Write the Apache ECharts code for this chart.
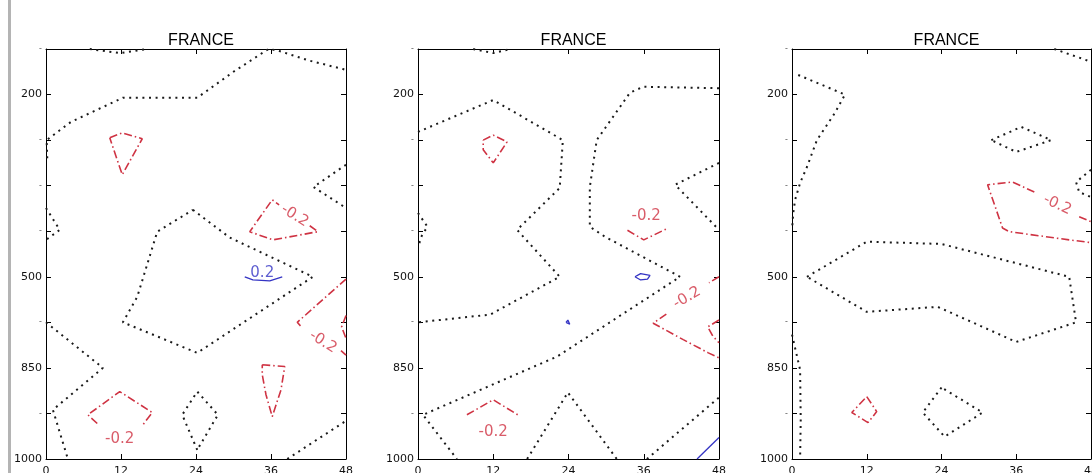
<!DOCTYPE html>
<html>
<head>
<meta charset="utf-8">
<script src="https://cdn.jsdelivr.net/npm/echarts@6/dist/echarts.min.js"></script>
<style>
  html, body { margin: 0; padding: 0; background: #fff; }
  #chart { width: 1092px; height: 473px; }
</style>
</head>
<body>
<div id="chart"></div>
<script>
// Pressure levels (hPa) on the vertical axis, plotted by level index, 1000 at the bottom
const levels = [150, 200, 250, 300, 400, 500, 700, 850, 925, 1000];
const labeledLevels = [200, 500, 850, 1000];
// Forecast hour ticks on the horizontal axis
const hours = [0, 12, 24, 36, 48];
const panelTitles = ['FRANCE', 'FRANCE', 'FRANCE'];

// Contour polylines as [hour, level index]; zero line, -0.2 and +0.2 isolines

// Panel 1
const p1Zero = [
  [[7, 0], [11.8, 0.09], [16.2, 0]],
  [[0.2, 2.4], [0.1, 2.0], [4, 1.6], [12.3, 1.07], [24.2, 1.07], [30, 0.5], [35.6, 0], [37, 0.03], [42, 0.25], [47.5, 0.44], [48, 0.46]],
  [[0, 3.49], [2.2, 3.97], [0, 4.19]],
  [[23.5, 3.53], [29.4, 4.14], [42.7, 5.0], [24.2, 6.67], [12.3, 6.0], [14.6, 5.44], [17.8, 4.01], [23.5, 3.53]],
  [[48, 2.54], [42.8, 3.03], [48, 3.49]],
  [[0, 6.0], [9.1, 7.0], [1.1, 7.92], [3.5, 9.0]],
  [[24.2, 8.8], [21.8, 8.03], [24.2, 7.52], [27.5, 8.03], [24.2, 8.8]],
  [[38.6, 9.0], [47.8, 8.18]]
];
const p1Neg = [
  [[10.2, 1.95], [12.2, 1.84], [15.4, 1.97], [12.2, 2.76], [10.2, 1.95]],
  [[42.2, 3.88], [43.5, 4.01], [36.3, 4.19], [32.6, 4.01], [36.2, 3.31], [37.3, 3.42]],
  [[48, 5.05], [40.2, 6.0], [41.0, 6.12]],
  [[47.2, 6.62], [48, 6.72]],
  [[48, 5.85], [47.3, 6.1], [48, 6.35]],
  [[34.6, 6.93], [38.2, 6.97], [37.6, 7.48], [36.2, 8.07], [35.2, 7.59], [34.6, 7.15], [34.6, 6.93]],
  [[8.2, 8.22], [6.7, 8.03], [11.8, 7.52], [17.0, 7.98], [15.5, 8.25]]
];
const p1Pos = [
  [[31.8, 5.0], [33.1, 5.07], [35.8, 5.09], [37.8, 5.0]]
];
const p1Labels = [[39.8, 3.66, -0.2], [44.3, 6.43, -0.2], [11.8, 8.57, -0.2], [34.6, 4.93, 0.2]];

// Panel 2
const p2Zero = [
  [[8.8, 0], [12.0, 0.09], [14.7, 0]],
  [[0, 1.82], [12.0, 1.12], [23.1, 2.0], [22.6, 3.05], [15.8, 3.97], [22.6, 5.0], [11.5, 5.83], [0, 6.0]],
  [[0, 3.6], [1.5, 3.9], [0.6, 4.1], [0, 4.35]],
  [[48, 0.86], [35.9, 0.83], [33.8, 0.96], [28.5, 2.0], [27.4, 3.03], [27.4, 3.9], [29.8, 4.12], [41.8, 5.0], [22.2, 6.75], [0.8, 8.03], [6.2, 9.0]],
  [[48, 2.5], [41, 2.98], [48, 3.97]],
  [[17.4, 9], [23.9, 7.54], [31.7, 9]],
  [[36.5, 9], [48, 7.65]]
];
const p2Neg = [
  [[10.4, 2.0], [12.0, 1.89], [14.2, 2.04], [12.0, 2.5], [10.4, 2.21], [10.4, 2.0]],
  [[33.4, 3.98], [36.0, 4.19], [39.6, 3.95]],
  [[48, 5.0], [46.4, 5.13]],
  [[39.6, 5.82], [37.5, 6.02], [42.3, 6.38], [46.3, 6.67], [48, 6.78]],
  [[48, 5.95], [46.2, 6.1], [47, 6.3], [48, 6.45]],
  [[7.8, 8.03], [12.0, 7.7], [15.9, 8.03]]
];
const p2Pos = [
  [[34.6, 5.0], [35.5, 4.93], [37, 4.97], [36.6, 5.05], [35.5, 5.07], [34.6, 5.0]],
  [[23.6, 6.0], [23.9, 5.95], [24.2, 5.98], [24.2, 6.04], [23.9, 6.06], [23.6, 6.0]],
  [[44.5, 9], [48, 8.53]]
];
const p2Labels = [[36.4, 3.66, -0.2], [42.9, 5.46, -0.2], [12.0, 8.4, -0.2]];

// Panel 3
const p3Zero = [
  [[1.0, 0.57], [8.5, 1.0], [6.9, 1.4], [4.0, 2.0], [2.4, 2.59], [1.3, 2.94], [0.5, 3.31], [0.2, 3.6], [0, 3.97]],
  [[0, 6.27], [1.3, 7.04], [1.4, 8.14], [1.3, 9.0]],
  [[42.1, 0], [48, 0.28]],
  [[32.0, 2.0], [36.8, 1.71], [41.6, 2.0], [36.0, 2.26], [32.0, 2.0]],
  [[48, 2.65], [45.6, 2.92], [46.1, 3.14], [48, 3.25]],
  [[2.4, 5.0], [12.0, 4.23], [24.0, 4.28], [44.5, 5.0], [45.6, 6.0], [36.0, 6.43], [23.4, 5.66], [12.0, 5.77], [2.4, 5.0]],
  [[24.0, 7.43], [21.0, 7.98], [24.5, 8.51], [30.6, 7.98], [24.0, 7.43]]
];
const p3Neg = [
  [[12.0, 7.63], [13.6, 7.96], [12.2, 8.2], [9.6, 7.98], [12.0, 7.63]],
  [[38.9, 3.14], [35.4, 2.92], [31.4, 2.98], [33.8, 3.93], [34.9, 4.01], [44.5, 4.19], [48, 4.25]],
  [[46.1, 3.68], [48, 3.79]]
];
const p3Pos = [];
const p3Labels = [[42.6, 3.42, -0.2]];

// ---- layout and styling ----
const panels = [
  { zero: p1Zero, neg: p1Neg, pos: p1Pos, labels: p1Labels },
  { zero: p2Zero, neg: p2Neg, pos: p2Pos, labels: p2Labels },
  { zero: p3Zero, neg: p3Neg, pos: p3Pos, labels: p3Labels }
];
// in-line label tilt (degrees) for each panel's labels
const labelTilt = [[-32, -32, 0, 0], [0, 30, 0], [-25]];
const frames = [
  { left: 46, width: 300 },
  { left: 418, width: 301 },
  { left: 792, width: 299 }
];
const PLOT_TOP = 49, PLOT_H = 410;
const TICK_FONT = 'DejaVu Sans';
const NEG_COLOR = '#cf3343', POS_COLOR = '#3434c4';

const styleZero = { color: '#1a1a1a', width: 2, type: [2, 4.6], cap: 'butt' };
const styleNeg = { color: NEG_COLOR, width: 1.6, type: [8, 3, 1.5, 3] };
const stylePos = { color: POS_COLOR, width: 1.3, type: 'solid' };

const axisLine = { show: true, onZero: false, lineStyle: { color: '#000', width: 1 } };
const axisTick = { show: true, inside: true, length: 5, lineStyle: { color: '#000', width: 1 } };

const grids = [], xAxes = [], yAxes = [], titles = [], series = [];

panels.forEach((p, i) => {
  const f = frames[i];
  grids.push({
    left: f.left, top: PLOT_TOP, width: f.width, height: PLOT_H,
    containLabel: false, outerBoundsMode: 'none'
  });
  titles.push({
    text: panelTitles[i], left: f.left + f.width / 2, top: 28, textAlign: 'center',
    textStyle: { fontFamily: 'Liberation Sans', fontSize: 16, fontWeight: 'normal', color: '#000' }
  });
  const xBase = {
    gridIndex: i, type: 'value', min: hours[0], max: hours[hours.length - 1], interval: hours[1] - hours[0],
    axisLine, axisTick, splitLine: { show: false }
  };
  xAxes.push(Object.assign({}, xBase, {
    position: 'bottom',
    axisLabel: { show: true, margin: 7, fontFamily: TICK_FONT, fontSize: 11, color: '#111' }
  }));
  xAxes.push(Object.assign({}, xBase, { position: 'top', axisLabel: { show: false } }));
  const yBase = {
    gridIndex: i, type: 'value', min: 0, max: levels.length - 1, interval: 1, inverse: true,
    axisLine, axisTick, splitLine: { show: false }
  };
  yAxes.push(Object.assign({}, yBase, {
    position: 'left',
    axisLabel: {
      show: true, margin: 4, fontFamily: TICK_FONT, fontSize: 11, color: '#111',
      formatter: v => labeledLevels.includes(levels[v]) ? String(levels[v]) : '{d|-}',
      rich: { d: { fontSize: 8, color: '#555', fontFamily: TICK_FONT } }
    }
  }));
  yAxes.push(Object.assign({}, yBase, { position: 'right', axisLabel: { show: false } }));

  const addLines = (list, lineStyle) => list.forEach(poly => series.push({
    type: 'line', xAxisIndex: 2 * i, yAxisIndex: 2 * i, data: poly,
    symbol: 'none', showSymbol: false, smooth: false, silent: true, clip: true,
    lineStyle
  }));
  addLines(p.zero, styleZero);
  addLines(p.neg, styleNeg);
  addLines(p.pos, stylePos);

  // contour value labels placed along their isolines
  series.push({
    type: 'scatter', xAxisIndex: 2 * i, yAxisIndex: 2 * i, silent: true,
    symbol: 'circle', symbolSize: 1, itemStyle: { color: 'rgba(0,0,0,0)' },
    z: 5,
    data: p.labels.map((d, k) => ({
      value: d,
      label: {
        rotate: labelTilt[i][k] || 0,
        color: d[2] < 0 ? NEG_COLOR : POS_COLOR
      }
    })),
    label: {
      show: true, position: 'inside', fontFamily: TICK_FONT, fontSize: 15,
      formatter: q => String(q.value[2])
    }
  });
});

const chart = echarts.init(document.getElementById('chart'), null, { renderer: 'canvas' });
chart.setOption({
  animation: false,
  backgroundColor: '#fff',
  title: titles,
  grid: grids,
  xAxis: xAxes,
  yAxis: yAxes,
  series,
  graphic: [{ type: 'rect', shape: { x: 8, y: 0, width: 3, height: 473 }, style: { fill: '#b4b4b4' } }]
});
</script>
</body>
</html>
